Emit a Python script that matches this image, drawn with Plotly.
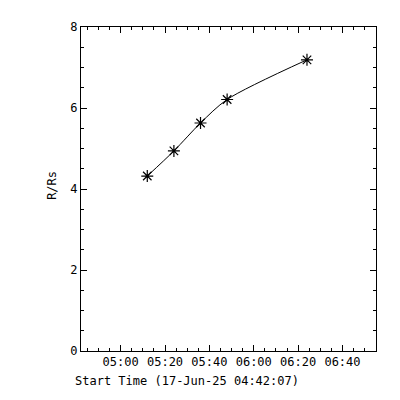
import plotly.graph_objects as go

times = ["2025-06-17 05:12:00", "2025-06-17 05:24:00", "2025-06-17 05:36:00",
         "2025-06-17 05:48:00", "2025-06-17 06:24:00"]
radius = [4.32, 4.94, 5.63, 6.21, 7.19]

x_range = ["2025-06-17 04:42:07", "2025-06-17 06:55:07"]
y_range = [0, 8]
x_title = "Start Time (17-Jun-25 04:42:07)"
y_title = "R/Rs"

font = dict(family="DejaVu Sans Mono", size=12, color="black")

fig = go.Figure()
fig.add_trace(go.Scatter(
    x=times, y=radius, mode="lines",
    line=dict(color="black", width=1, shape="spline", smoothing=0.8),
    hoverinfo="skip", showlegend=False))
fig.add_trace(go.Scatter(
    x=times, y=radius, mode="markers",
    marker=dict(symbol="asterisk-open", size=10, color="black",
                line=dict(color="black", width=1.2)),
    showlegend=False))

axis_common = dict(
    showline=True, linecolor="black", linewidth=1, mirror="allticks",
    ticks="inside", ticklen=6, tickwidth=1, tickcolor="black",
    showgrid=False, zeroline=False, tickfont=font,
)

fig.update_xaxes(
    type="date", range=x_range,
    tick0="2025-06-17 05:00:00", dtick=20 * 60 * 1000, tickformat="%H:%M",
    minor=dict(ticks="inside", ticklen=3, tickcolor="black", tickwidth=1,
               dtick=5 * 60 * 1000, tick0="2025-06-17 05:00:00", showgrid=False),
    **axis_common)
fig.update_yaxes(
    range=y_range, tick0=0, dtick=2,
    minor=dict(ticks="inside", ticklen=3, tickcolor="black", tickwidth=1,
               dtick=0.5, showgrid=False),
    **axis_common)

fig.add_annotation(text=x_title, xref="paper", yref="paper",
                   x=0.36, y=-0.092, showarrow=False, font=font,
                   xanchor="center", yanchor="middle")
fig.add_annotation(text=y_title, xref="paper", yref="paper",
                   x=-0.098, y=0.51, showarrow=False, font=font, textangle=-90,
                   xanchor="center", yanchor="middle")

fig.update_layout(
    width=392, height=392,
    margin=dict(l=73, r=24, t=16, b=49),
    paper_bgcolor="white", plot_bgcolor="white",
    font=font,
)

fig.write_html("out.html")
